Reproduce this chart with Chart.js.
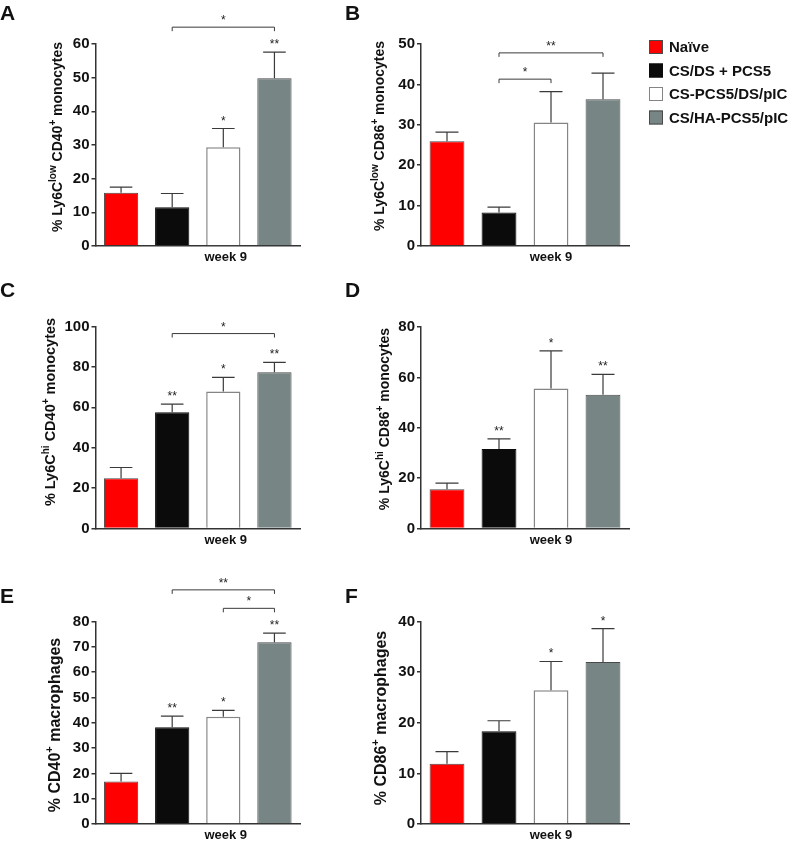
<!DOCTYPE html>
<html>
<head>
<meta charset="utf-8">
<script src="https://cdn.jsdelivr.net/npm/chart.js@4.4.1/dist/chart.umd.min.js"></script>
<style>
  html, body { margin: 0; padding: 0; background: #fff; overflow: hidden; }
  #fig { position: relative; width: 789px; height: 841px; }
  .panel { position: absolute; }
</style>
</head>
<body>
<div id="fig"></div>
<script>
// groups shown in every panel
const groups = ['Naïve', 'CS/DS + PCS5', 'CS-PCS5/DS/pIC', 'CS/HA-PCS5/pIC'];
const weekLabel = ['week 9'];

// A - Ly6C low CD40+ monocytes
const meanA = [15.8, 11.5, 29.3, 49.8];
const errA = [1.7, 4.1, 5.6, 7.8];
const starsA = ['', '', '*', '**'];
const bracketsA = [[1, 3, 65, '*']];
const axisA = [60, 10];

// B - Ly6C low CD86+ monocytes
const meanB = [25.9, 8.3, 30.6, 36.3];
const errB = [2.3, 1.3, 7.6, 6.5];
const starsB = ['', '', '', ''];
const bracketsB = [[1, 3, 47.8, '**'], [1, 2, 41.3, '*']];
const axisB = [50, 10];

// C - Ly6C hi CD40+ monocytes
const meanC = [24.9, 57.6, 67.8, 77.4];
const errC = [5.3, 4.0, 7.0, 4.8];
const starsC = ['', '**', '*', '**'];
const bracketsC = [[1, 3, 96.5, '*']];
const axisC = [100, 20];

// D - Ly6C hi CD86+ monocytes
const meanD = [15.6, 31.6, 55.6, 53.1];
const errD = [2.4, 4.0, 14.9, 8.1];
const starsD = ['', '**', '*', '**'];
const bracketsD = [];
const axisD = [80, 20];

// E - CD40+ macrophages
const meanE = [16.8, 38.2, 42.4, 71.8];
const errE = [3.2, 4.4, 2.5, 3.6];
const starsE = ['', '**', '*', '**'];
const bracketsE = [[1, 3, 92.5, '**'], [2, 3, 85.2, '*']];
const axisE = [80, 10];

// F - CD86+ macrophages
const meanF = [11.9, 18.3, 26.4, 32.0];
const errF = [2.4, 2.1, 5.7, 6.6];
const starsF = ['', '', '*', '*'];
const bracketsF = [];
const axisF = [40, 10];

// axis titles, [text, superscript?]
const titleA = [['% Ly6C', 0], ['low', 1], [' CD40', 0], ['+', 1], [' monocytes', 0]];
const titleB = [['% Ly6C', 0], ['low', 1], [' CD86', 0], ['+', 1], [' monocytes', 0]];
const titleC = [['% Ly6C', 0], ['hi', 1], [' CD40', 0], ['+', 1], [' monocytes', 0]];
const titleD = [['% Ly6C', 0], ['hi', 1], [' CD86', 0], ['+', 1], [' monocytes', 0]];
const titleE = [['% CD40', 0], ['+', 1], [' macrophages', 0]];
const titleF = [['% CD86', 0], ['+', 1], [' macrophages', 0]];

const FAMILY = "'Liberation Sans', Arial, Helvetica, sans-serif";
const fills = ['#ff0000', '#0b0b0b', '#ffffff', '#788585'];
const edges = ['#4a4a4a', '#0b0b0b', '#858585', '#4a4a4a'];

// draws a rotated axis title with superscripts
function drawTitle(ctx, parts, cx, cy, size) {
  const big = `bold ${size}px ${FAMILY}`;
  const small = `bold ${Math.round(size * 0.7)}px ${FAMILY}`;
  let total = 0;
  parts.forEach(([t, sup]) => { ctx.font = sup ? small : big; total += ctx.measureText(t).width; });
  ctx.save();
  ctx.translate(cx, cy);
  ctx.rotate(-Math.PI / 2);
  ctx.fillStyle = '#111';
  ctx.textAlign = 'left';
  ctx.textBaseline = 'alphabetic';
  let x = -total / 2;
  const base = size * 0.36;
  parts.forEach(([t, sup]) => {
    ctx.font = sup ? small : big;
    ctx.fillText(t, x, sup ? base - size * 0.42 : base);
    x += ctx.measureText(t).width;
  });
  ctx.restore();
}

const figureMarks = {
  id: 'figureMarks',
  afterDatasetsDraw(chart, args, o) {
    const ctx = chart.ctx, y = chart.scales.y;
    ctx.save();
    ctx.strokeStyle = '#3a3a3a';
    ctx.lineWidth = 1.2;
    ctx.fillStyle = '#222';
    ctx.font = `12px ${FAMILY}`;
    ctx.textAlign = 'center';
    ctx.textBaseline = 'alphabetic';
    chart.data.datasets.forEach((ds, i) => {
      const bar = chart.getDatasetMeta(i).data[0];
      const top = y.getPixelForValue(ds.data[0] + o.err[i]);
      const cap = bar.width * 0.33;
      ctx.beginPath();
      ctx.moveTo(bar.x, bar.y);
      ctx.lineTo(bar.x, top);
      ctx.moveTo(bar.x - cap, top);
      ctx.lineTo(bar.x + cap, top);
      ctx.stroke();
      if (o.stars[i]) ctx.fillText(o.stars[i], bar.x, top - 4);
    });
    ctx.lineWidth = 1;
    o.brackets.forEach(([a, b, v, lab]) => {
      const xa = chart.getDatasetMeta(a).data[0].x;
      const xb = chart.getDatasetMeta(b).data[0].x;
      const yy = y.getPixelForValue(v);
      ctx.beginPath();
      ctx.moveTo(xa, yy + 4);
      ctx.lineTo(xa, yy);
      ctx.lineTo(xb, yy);
      ctx.lineTo(xb, yy + 4);
      ctx.stroke();
      ctx.fillText(lab, (xa + xb) / 2, yy - 3);
    });
    ctx.restore();
  },
  afterDraw(chart, args, o) {
    const ctx = chart.ctx;
    const [L, T] = o.box;
    ctx.save();
    ctx.fillStyle = '#111';
    ctx.font = `bold 21px ${FAMILY}`;
    ctx.textAlign = 'left';
    ctx.textBaseline = 'alphabetic';
    ctx.fillText(o.letter, o.letterPos[0] - L, o.letterPos[1] - T);
    drawTitle(ctx, o.title, o.titlePos[0] - L, o.titlePos[1] - T, o.titlePos[2]);
    if (o.legendAt) {
      const items = Chart.defaults.plugins.legend.labels.generateLabels(chart);
      ctx.font = `bold 15px ${FAMILY}`;
      ctx.textBaseline = 'middle';
      items.forEach((it, i) => {
        const bx = o.legendAt[0] - L, cy = o.legendAt[1] - T + i * 23.5;
        ctx.fillStyle = it.fillStyle;
        ctx.fillRect(bx, cy - 7, 14, 14);
        ctx.strokeStyle = it.strokeStyle;
        ctx.lineWidth = 1;
        ctx.strokeRect(bx + 0.5, cy - 6.5, 13, 13);
        ctx.fillStyle = '#111';
        ctx.fillText(it.text, bx + 20, cy + 1);
      });
    }
    ctx.restore();
  }
};

const fig = document.getElementById('fig');

function makePanel(p) {
  const [L, T, W, H] = p.box;
  const [x0, x1, y0, y1] = p.area;
  const wrap = document.createElement('div');
  wrap.className = 'panel';
  wrap.style.left = L + 'px';
  wrap.style.top = T + 'px';
  const cv = document.createElement('canvas');
  cv.width = W;
  cv.height = H;
  wrap.appendChild(cv);
  fig.appendChild(wrap);

  new Chart(cv, {
    type: 'bar',
    data: {
      labels: weekLabel,
      datasets: groups.map((g, i) => ({
        label: g,
        data: [p.mean[i]],
        backgroundColor: fills[i],
        borderColor: edges[i],
        borderWidth: i === 2 ? 1.5 : 1
      }))
    },
    options: {
      responsive: false,
      animation: false,
      events: [],
      layout: { padding: { left: 0, top: y0 - T, right: W - (x1 - L), bottom: 0 } },
      datasets: { bar: { categoryPercentage: 1, barPercentage: 0.67 } },
      scales: {
        x: {
          grid: { display: false, drawTicks: false },
          border: { color: '#333', width: 1.5 },
          ticks: { color: '#111', padding: 4, labelOffset: p.weekShift,
                   font: { family: FAMILY, size: 13, weight: 'bold' } },
          afterFit: s => { s.height = H - (y1 - T); }
        },
        y: {
          min: 0,
          max: p.axis[0],
          ticks: { stepSize: p.axis[1], color: '#111', padding: 2,
                   font: { family: FAMILY, size: 15, weight: 'bold' } },
          grid: { drawOnChartArea: false, tickLength: 4, color: '#333', lineWidth: 1.5 },
          border: { color: '#333', width: 1.5 },
          afterFit: s => { s.width = x0 - L; }
        }
      },
      plugins: {
        legend: { display: false },
        tooltip: { enabled: false },
        figureMarks: {
          err: p.err, stars: p.stars, brackets: p.brackets,
          box: p.box, letter: p.letter, letterPos: p.letterPos,
          title: p.title, titlePos: p.titlePos, legendAt: p.legendAt
        }
      }
    },
    plugins: [figureMarks]
  });
}

makePanel({ letter: 'A', mean: meanA, err: errA, stars: starsA, brackets: bracketsA, axis: axisA, title: titleA,
  box: [0, 0, 330, 280], area: [95.5, 300, 44, 246], titlePos: [57, 137, 14], letterPos: [0, 20], weekShift: 28 });
makePanel({ letter: 'B', mean: meanB, err: errB, stars: starsB, brackets: bracketsB, axis: axisB, title: titleB,
  box: [330, 0, 459, 280], area: [421, 629, 44, 246], titlePos: [379, 136, 14], letterPos: [345, 20], weekShift: 26,
  legendAt: [649, 47] });
makePanel({ letter: 'C', mean: meanC, err: errC, stars: starsC, brackets: bracketsC, axis: axisC, title: titleC,
  box: [0, 275, 330, 280], area: [95.5, 300, 326.5, 528.5], titlePos: [50, 412, 14.5], letterPos: [0, 297], weekShift: 28 });
makePanel({ letter: 'D', mean: meanD, err: errD, stars: starsD, brackets: bracketsD, axis: axisD, title: titleD,
  box: [330, 275, 459, 280], area: [421, 629, 327, 528.5], titlePos: [384, 419, 14], letterPos: [345, 297], weekShift: 26 });
makePanel({ letter: 'E', mean: meanE, err: errE, stars: starsE, brackets: bracketsE, axis: axisE, title: titleE,
  box: [0, 560, 330, 281], area: [95.5, 300, 621.5, 824], titlePos: [54, 725, 16], letterPos: [0, 603], weekShift: 28 });
makePanel({ letter: 'F', mean: meanF, err: errF, stars: starsF, brackets: bracketsF, axis: axisF, title: titleF,
  box: [330, 560, 459, 281], area: [421, 629, 621.5, 824], titlePos: [380, 718, 16], letterPos: [345, 603], weekShift: 26 });
</script>
</body>
</html>
